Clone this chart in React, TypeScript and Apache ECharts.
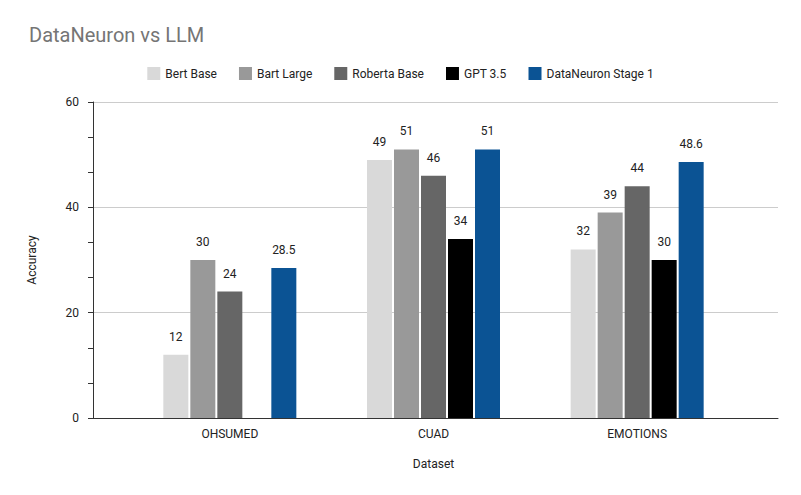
import * as echarts from "echarts";
import { useEffect, useRef } from "react";

const categories = ["OHSUMED", "CUAD", "EMOTIONS"];
const seriesNames = ["Bert Base", "Bart Large", "Roberta Base", "GPT 3.5", "DataNeuron Stage 1"];
const colors = ["#d9d9d9", "#999999", "#666666", "#000000", "#0b5394"];
const bertBase = [12, 49, 32];
const bartLarge = [30, 51, 39];
const robertaBase = [24, 46, 44];
const gpt35: (number | null)[] = [null, 34, 30];
const dataNeuron = [28.5, 51, 48.6];
const values = [bertBase, bartLarge, robertaBase, gpt35, dataNeuron];

export default function App() {
  const ref = useRef<HTMLDivElement | null>(null);

  useEffect(() => {
    document.body.style.margin = "0";
    const chart = echarts.init(ref.current!, undefined, { renderer: "svg" });
    chart.setOption({
      animation: false,
      textStyle: { fontFamily: "Roboto, sans-serif" },
      title: {
        text: "DataNeuron vs LLM",
        left: 24,
        top: 20,
        textStyle: { fontSize: 20, fontWeight: "normal", color: "#757575" },
      },
      legend: {
        top: 62,
        left: "center",
        itemWidth: 13,
        itemHeight: 13,
        itemGap: 22,
        icon: "rect",
        textStyle: { fontSize: 12, color: "#222" },
        data: seriesNames,
      },
      grid: [
        { left: 93, right: 23, top: 102, bottom: 77 },
        { left: 128, right: 62, top: 102, bottom: 77 },
      ],
      xAxis: [
        {
          gridIndex: 0,
          type: "value",
          min: 0,
          max: 1,
          axisLine: { show: true, onZero: false, lineStyle: { color: "#333" } },
          axisTick: { show: false },
          axisLabel: { show: false },
          splitLine: { show: false },
        },
        {
          gridIndex: 1,
          type: "category",
          data: categories,
          name: "Dataset",
          nameLocation: "middle",
          nameGap: 40,
          nameTextStyle: { fontSize: 12, color: "#222" },
          axisLine: { show: false },
          axisTick: { show: false },
          axisLabel: { fontSize: 12, color: "#222", margin: 10 },
        },
      ],
      yAxis: [
        {
          gridIndex: 0,
          type: "value",
          min: 0,
          max: 60,
          interval: 20,
          name: "Accuracy",
          nameLocation: "middle",
          nameGap: 55,
          nameTextStyle: { fontSize: 12, color: "#222" },
          axisLine: { show: true, lineStyle: { color: "#333" } },
          axisTick: { show: true, length: 5, lineStyle: { color: "#333" } },
          minorTick: { show: true, splitNumber: 3, length: 5, lineStyle: { color: "#333" } },
          axisLabel: { fontSize: 12, color: "#222", margin: 14 },
          splitLine: { lineStyle: { color: "#cccccc" } },
        },
        {
          gridIndex: 1,
          type: "value",
          min: 0,
          max: 60,
          interval: 20,
          show: false,
          splitLine: { show: false },
        },
      ],
      series: seriesNames.map((name, i) => ({
        name,
        type: "bar",
        xAxisIndex: 1,
        yAxisIndex: 1,
        data: values[i],
        barWidth: 25,
        barGap: "8%",
        itemStyle: { color: colors[i] },
        label: {
          show: true,
          position: "top",
          distance: 12,
          fontSize: 12,
          color: "#222",
        },
      })),
    });
    return () => chart.dispose();
  }, []);

  return <div ref={ref} style={{ width: 801, height: 495 }} />;
}
